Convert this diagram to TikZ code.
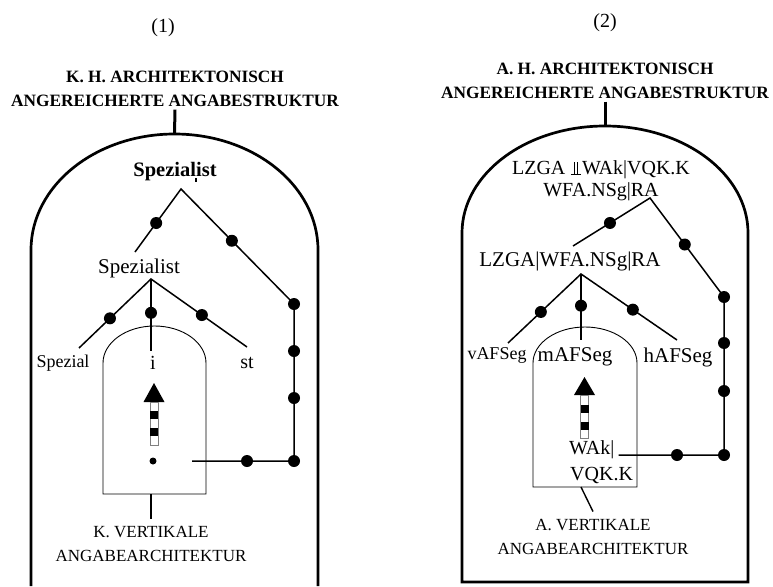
\documentclass[tikz,border=0pt]{standalone}
\usepackage{fontspec}
\setmainfont{Liberation Serif}
\usetikzlibrary{calc}
\newcommand{\fsz}[2]{\fontsize{#1}{#2}\selectfont}
\newcommand{\smark}{\rlap{\kern0.24em\rule[-0.26em]{0.07em}{0.17em}}}
\newcommand{\indepsym}{\mbox{\kern0.02em\rlap{\rule[-0.01em]{0.5em}{0.05em}}\kern0.14em\rule{0.05em}{0.66em}\kern0.12em\rule{0.05em}{0.66em}\kern0.2em}}
\tikzset{
  dot/.style={circle, fill=black, inner sep=0pt, minimum size=12pt},
  smalldot/.style={circle, fill=black, inner sep=0pt, minimum size=7pt},
  tree/.style={line width=1.5pt},
  outerline/.style={line width=2.7pt},
  innerline/.style={line width=0.9pt},
  stubthick/.style={line width=3pt},
  stubthin/.style={line width=1.4pt},
  txt/.style={inner sep=0pt},
  hdr/.style={inner sep=0pt, outer sep=3pt, align=center, font=\fsz{17.3}{23.5}\bfseries},
  vlab/.style={inner sep=0pt, outer ysep=8pt, align=center, font=\fsz{17}{23.5}},
}
\begin{document}
\begin{tikzpicture}[x=1pt,y=-1pt]
\useasboundingbox (0,0) rectangle (773,586);
% ---------------- panel (1) ----------------
\node[txt, font=\fsz{20}{24}] (numL) at (163,28) {(1)};
\node[hdr] (hL) at (175,89) {K. H. ARCHITEKTONISCH\\ANGEREICHERTE ANGABESTRUKTUR};
\coordinate (topL) at (174.5,134);
\draw[stubthick] (hL.south) -- (topL);
\draw[outerline] (31,586) -- (31,250) .. controls (31,185.9) and (95.2,134) .. (topL)
  .. controls (253.8,134) and (318,185.9) .. (318,250) -- (318,586);
\draw[innerline] (103,494) -- (103,363) .. controls (103,342.6) and (126.1,326) .. (154.5,326)
  .. controls (182.9,326) and (206,342.6) .. (206,363) -- (206,494) -- cycle;

\node[txt, font=\fsz{20.5}{24}\bfseries] (spzB) at (175,172) {Spezia\smark list};
\node[txt, font=\fsz{21}{24}] (spz) at (139,268) {Spezialist};
\node[txt, font=\fsz{18}{22}] (lSpezial) at (63,363) {Spezial};
\node[txt, font=\fsz{20}{24}] (lI) at (153,363) {i};
\node[txt, font=\fsz{20}{24}] (lSt) at (247,363) {st};
\node[vlab] (vlabL) at (151,544) {K. VERTIKALE\\ANGABEARCHITEKTUR};

\coordinate (apL) at (181,189);
\coordinate (eL1) at (135,252);
\coordinate (cL1) at (294,304);
\coordinate (cL2) at (294,461);
\coordinate (eL2) at (192,461);
\coordinate (bpL) at (151,279);
\coordinate (sL1) at (79,348);
\coordinate (sL2) at (151,351);
\coordinate (sL3) at (247,347);
\draw[tree] (eL1) -- (apL) -- (cL1) -- (cL2) -- (eL2);
\draw[tree] (sL1) -- (bpL) -- (sL3);
\draw[tree] (bpL) -- (sL2);
\node[dot] (dL1) at ($(apL)!0.54!(eL1)$) {};
\node[dot] (dL2) at ($(apL)!0.45!(cL1)$) {};
\node[dot] (dL3) at (cL1) {};
\node[dot] (dL4) at (294,351) {};
\node[dot] (dL5) at (294,398) {};
\node[dot] (dL6) at (cL2) {};
\node[dot] (dL7) at (247,461) {};
\node[dot] (dL8) at ($(bpL)!0.57!(sL1)$) {};
\node[dot] (dL9) at ($(bpL)!0.47!(sL2)$) {};
\node[dot] (dL10) at ($(bpL)!0.53!(sL3)$) {};
\node[smalldot] (sdL) at (153,461) {};

% hatched arrow (1)
\fill (154,383) -- (164.5,402) -- (143.5,402) -- cycle;
\draw[line width=0.7pt, gray] (150,402) rectangle (158,445);
\fill (150,410.5) rectangle (158,419);
\fill (150,427.5) rectangle (158,436);

\coordinate (inLb) at (151,494);
\draw[stubthin] (inLb) -- (vlabL.north);

% ---------------- panel (2) ----------------
\node[txt, font=\fsz{20}{24}] (numR) at (605,23) {(2)};
\node[hdr] (hR) at (605,81) {A. H. ARCHITEKTONISCH\\ANGEREICHERTE ANGABESTRUKTUR};
\coordinate (topR) at (605,126);
\draw[stubthick] (hR.south) -- (topR);
\draw[outerline] (462,233) .. controls (462,173.9) and (526,126) .. (topR)
  .. controls (684,126) and (748,173.9) .. (748,233) -- (748,582) -- (462,582) -- cycle;
\draw[innerline] (533,487) -- (533,363) .. controls (533,343.1) and (556.3,327) .. (585,327)
  .. controls (613.7,327) and (637,343.1) .. (637,363) -- (637,487) -- cycle;

\node[txt, align=center, font=\fsz{20}{22}] (topT) at (601,181) {LZGA \indepsym WAk|VQK.K\\WFA.NSg|RA};
\node[txt, font=\fsz{21}{24}] (midT) at (570,261) {LZGA|WFA.NSg|RA};
\node[txt, font=\fsz{18}{22}] (vAF) at (497,355) {vAFSeg};
\node[txt, font=\fsz{21}{24}] (mAF) at (575,357) {mAFSeg};
\node[txt, font=\fsz{21}{24}] (hAF) at (678,357) {hAFSeg};
\node[txt, anchor=west, font=\fsz{20}{24}] (wak1) at (569,450) {WAk|};
\node[txt, anchor=west, font=\fsz{20}{24}] (wak2) at (570,475) {VQK.K};
\node[vlab] (vlabR) at (593,537) {A. VERTIKALE\\ANGABEARCHITEKTUR};

\coordinate (apR) at (650,198);
\coordinate (eR1) at (573,246);
\coordinate (cR1) at (724,297);
\coordinate (cR2) at (724,455);
\coordinate (bpR) at (581,274);
\coordinate (sR1) at (508,343);
\coordinate (sR2) at (581,340);
\coordinate (sR3) at (677,340);
\draw[tree] (eR1) -- (apR) -- (cR1) -- (cR2) -- ([xshift=4pt]wak1.east |- cR2);
\draw[tree] (sR1) -- (bpR) -- (sR3);
\draw[tree] (bpR) -- (sR2);
\node[dot] (dR1) at ($(apR)!0.52!(eR1)$) {};
\node[dot] (dR2) at ($(apR)!0.47!(cR1)$) {};
\node[dot] (dR3) at (cR1) {};
\node[dot] (dR4) at (724,343) {};
\node[dot] (dR5) at (724,391) {};
\node[dot] (dR6) at (cR2) {};
\node[dot] (dR7) at (677,455) {};
\node[dot] (dR8) at ($(bpR)!0.55!(sR1)$) {};
\node[dot] (dR9) at ($(bpR)!0.48!(sR2)$) {};
\node[dot] (dR10) at ($(bpR)!0.54!(sR3)$) {};

% hatched arrow (2)
\fill (584.5,377) -- (595,395) -- (574,395) -- cycle;
\draw[line width=0.7pt, gray] (580.5,395) rectangle (588.5,438);
\fill (580.5,405) rectangle (588.5,413);
\fill (580.5,422) rectangle (588.5,430);

\coordinate (inRb) at (581,487);
\draw[stubthin] (inRb) -- (vlabR.north);
\end{tikzpicture}
\end{document}
